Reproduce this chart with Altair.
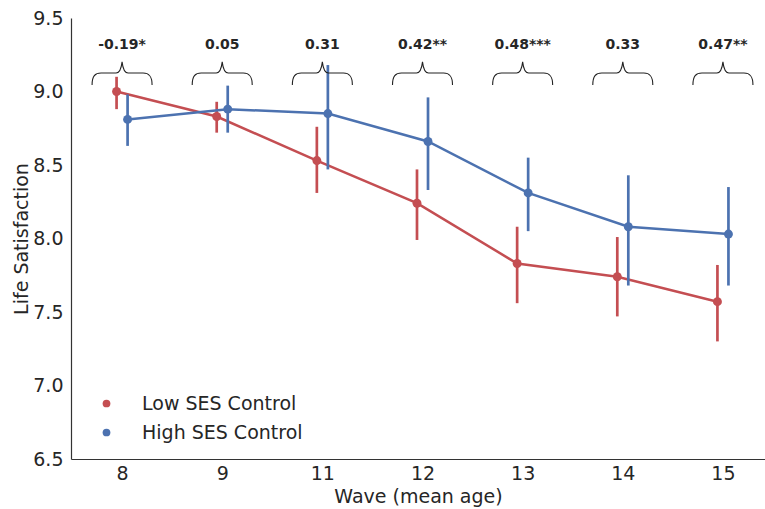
import json
import altair as alt
import pandas as pd

waves = ["8", "9", "11", "12", "13", "14", "15"]
groups = ["Low SES Control", "High SES Control"]
low_mean = [9.00, 8.83, 8.53, 8.24, 7.83, 7.74, 7.57]
low_lo = [8.88, 8.72, 8.31, 7.99, 7.56, 7.47, 7.30]
low_hi = [9.10, 8.93, 8.76, 8.47, 8.08, 8.01, 7.82]
high_mean = [8.81, 8.88, 8.85, 8.66, 8.31, 8.08, 8.03]
high_lo = [8.63, 8.72, 8.47, 8.33, 8.05, 7.68, 7.68]
high_hi = [8.98, 9.04, 9.18, 8.96, 8.55, 8.43, 8.35]
effects = ["-0.19*", "0.05", "0.31", "0.42**", "0.48***", "0.33", "0.47**"]

colors = ["#C44E52", "#4C72B0"]
dodge = {"Low SES Control": -0.055, "High SES Control": 0.055}

rows = []
for g, m, lo, hi in [(groups[0], low_mean, low_lo, low_hi), (groups[1], high_mean, high_lo, high_hi)]:
    for i, w in enumerate(waves):
        rows.append({"group": g, "wave": w, "pos": i + dodge[g], "mean": m[i], "lo": lo[i], "hi": hi[i]})
df = pd.DataFrame(rows)
ann = pd.DataFrame({"pos": list(range(len(waves))), "label": effects})

label_expr = json.dumps(waves) + "[round(datum.value)]"

xenc = alt.X("pos:Q",
             scale=alt.Scale(domain=[-0.51, 6.42], nice=False, zero=False),
             axis=alt.Axis(values=list(range(len(waves))), labelExpr=label_expr,
                           title="Wave (mean age)", grid=False, ticks=False,
                           labelPadding=5, titlePadding=4))
yenc = alt.Y("mean:Q",
             scale=alt.Scale(domain=[6.5, 9.5], nice=False, zero=False),
             axis=alt.Axis(values=[6.5, 7.0, 7.5, 8.0, 8.5, 9.0, 9.5], format=".1f",
                           title="Life Satisfaction", grid=False, ticks=False,
                           labelPadding=8, titlePadding=1))
color_scale = alt.Scale(domain=groups, range=colors)

base = alt.Chart(df)
layers = []
for g, c in zip(groups, colors):
    sub = base.transform_filter(alt.datum.group == g)
    layers.append(sub.mark_line(strokeWidth=2.5, color=c).encode(x=xenc, y=yenc))
    layers.append(sub.mark_rule(strokeWidth=2.7, color=c).encode(x=xenc, y=alt.Y("lo:Q"), y2="hi:Q"))

points = base.mark_point(filled=True, opacity=1, size=80).encode(
    x=xenc, y=yenc,
    color=alt.Color("group:N", scale=color_scale,
                    legend=alt.Legend(title=None, orient="none", legendX=26, legendY=376,
                                      symbolType="circle", symbolSize=60, labelFontSize=19,
                                      labelFont="DejaVu Sans", labelColor="#262626",
                                      labelOffset=26, labelLimit=400, rowPadding=9, padding=0,
                                      symbolStrokeWidth=0, symbolOpacity=1)))
layers.append(points)

brace_path = ("M -1 0.4 C -1 0.1 -0.9 0 -0.7 0 L -0.2 0 C -0.08 0 -0.02 -0.2 0 -0.37 "
              "C 0.02 -0.2 0.08 0 0.2 0 L 0.7 0 C 0.9 0 1 0.1 1 0.4")
braces = alt.Chart(ann).mark_point(shape=brace_path, size=3600, filled=False, opacity=1,
                                   stroke="#222222", strokeWidth=1.1).encode(
    x=xenc, y=alt.datum(9.126))
texts = alt.Chart(ann).mark_text(font="DejaVu Sans", fontWeight="bold", fontSize=14,
                                 color="#262626").encode(
    x=xenc, y=alt.datum(9.316), text="label:N")
layers += [braces, texts]

chart = alt.layer(*layers).properties(
    width=694, height=441,
    autosize=alt.AutoSizeParams(type="none"),
    padding={"left": 71, "top": 18, "right": 0, "bottom": 50},
).configure_view(stroke=None).configure_axis(
    labelFont="DejaVu Sans", titleFont="DejaVu Sans", labelFontSize=19, titleFontSize=19,
    labelColor="#262626", titleColor="#262626", titleFontWeight="normal",
    domainColor="#333333", domainWidth=1.2,
)

chart.save("out.html", embed_options={"renderer": "svg", "actions": False})
